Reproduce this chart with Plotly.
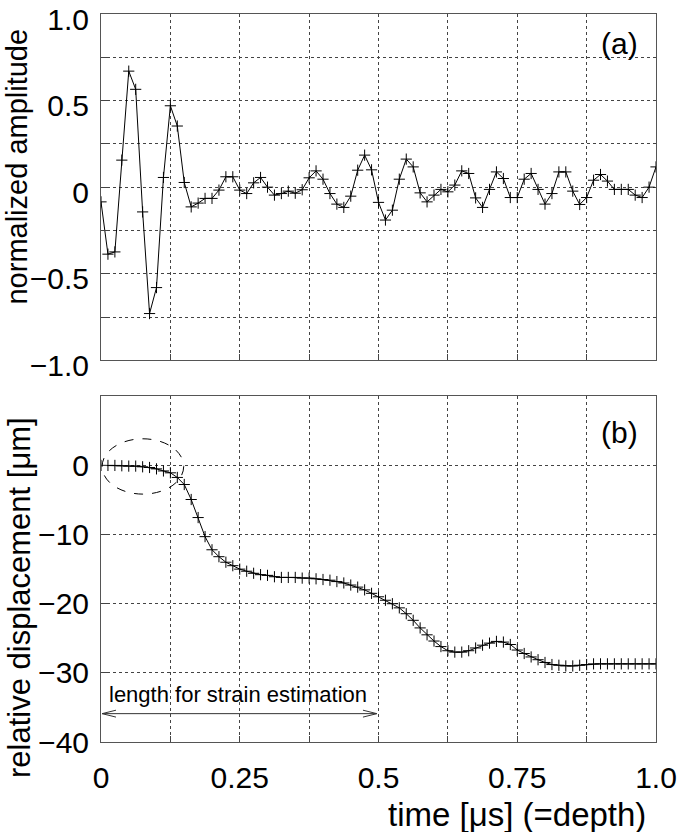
import plotly.graph_objects as go

# ---------------- data ----------------
dt = 0.0125
time_us = [round(i * dt, 4) for i in range(81)]

amplitude = [
    -0.085, -0.387, -0.374, 0.156, 0.67, 0.565, -0.143, -0.73, -0.58, 0.056,
    0.47, 0.353, 0.027, -0.114, -0.092, -0.065, -0.065, -0.017, 0.06, 0.06,
    -0.017, -0.037, 0.025, 0.056, 0.0, -0.046, -0.037, -0.023, -0.035, -0.015,
    0.054, 0.094, 0.046, -0.037, -0.098, -0.117, -0.052, 0.098, 0.185, 0.1,
    -0.088, -0.19, -0.133, 0.046, 0.162, 0.117, -0.033, -0.085, -0.046, -0.013,
    -0.027, 0.012, 0.094, 0.079, -0.062, -0.117, -0.013, 0.088, 0.05, -0.06,
    -0.06, 0.046, 0.079, -0.013, -0.098, -0.037, 0.088, 0.088, -0.023, -0.1,
    -0.06, 0.04, 0.073, 0.035, -0.013, -0.013, -0.013, -0.046, -0.06, 0.0,
    0.117,
]

displacement = [
    0.0, 0.0, 0.0, -0.05, -0.1, -0.1, -0.2, -0.3, -0.5, -0.8,
    -1.07, -1.74, -2.76, -4.93, -7.54, -10.3, -12.2, -13.2, -14.0, -14.5,
    -15.0, -15.3, -15.6, -15.8, -15.9, -16.1, -16.2, -16.2, -16.2, -16.3,
    -16.3, -16.4, -16.5, -16.6, -16.8, -17.0, -17.3, -17.6, -18.0, -18.5,
    -19.0, -19.5, -20.0, -20.6, -21.45, -22.4, -23.5, -24.5, -25.4, -26.2,
    -26.8, -27.0, -27.0, -26.8, -26.4, -26.0, -25.7, -25.45, -25.55, -25.9,
    -26.7, -27.2, -27.7, -28.1, -28.5, -28.8, -28.9, -29.0, -29.0, -28.9,
    -28.8, -28.7, -28.7, -28.7, -28.7, -28.7, -28.7, -28.7, -28.7, -28.7,
    -28.7,
]

x_tickvals = [0, 0.125, 0.25, 0.375, 0.5, 0.625, 0.75, 0.875, 1.0]
x_ticktext = ["0", "", "0.25", "", "0.5", "", "0.75", "", "1.0"]
amp_tickvals = [-1.0, -0.75, -0.5, -0.25, 0, 0.25, 0.5, 0.75, 1.0]
amp_ticktext = ["\u22121.0", "", "\u22120.5", "", "0", "", "0.5", "", "1.0"]
disp_tickvals = [-40, -30, -20, -10, 0, 10]
disp_ticktext = ["\u221240", "\u221230", "\u221220", "\u221210", "0", ""]

FONT = "Liberation Sans, Arial, sans-serif"

fig = go.Figure()

line_style = dict(color="black", width=1)
marker_style = dict(symbol="cross-thin", size=8, line=dict(color="black", width=1), color="black")

fig.add_trace(go.Scatter(x=time_us, y=amplitude, mode="lines+markers",
                         line=line_style, marker=marker_style,
                         xaxis="x", yaxis="y", showlegend=False))
fig.add_trace(go.Scatter(x=time_us, y=displacement, mode="lines+markers",
                         line=line_style, marker=marker_style,
                         xaxis="x2", yaxis="y2", showlegend=False))

axis_common = dict(
    showgrid=True, gridcolor="#444", griddash="dot", gridwidth=1,
    showline=True, mirror=True, linecolor="#555", linewidth=1,
    ticks="inside", ticklen=6, tickcolor="#444",
    zeroline=False, ticklabeloverflow="allow", automargin=False,
    tickfont=dict(family=FONT, size=30, color="black"),
)

fig.update_layout(
    width=683, height=832,
    margin=dict(l=101, r=27, t=14, b=90, autoexpand=False),
    paper_bgcolor="white", plot_bgcolor="white",
    xaxis=dict(domain=[0, 1], range=[0, 1], tickvals=x_tickvals, ticktext=x_ticktext,
               anchor="y", showticklabels=False, **axis_common),
    yaxis=dict(domain=[0.5243, 1], range=[-1, 1], tickvals=amp_tickvals,
               ticktext=amp_ticktext, anchor="x", ticklabelstandoff=5,
               ticklabelshift=5, **axis_common),
    xaxis2=dict(domain=[0, 1], range=[0, 1], tickvals=x_tickvals, ticktext=x_ticktext,
                anchor="y2", ticklabelstandoff=9, **axis_common),
    yaxis2=dict(domain=[0, 0.4749], range=[-40, 10], tickvals=disp_tickvals,
                ticktext=disp_ticktext, anchor="x2", ticklabelstandoff=5, **axis_common),
)

# axis titles as annotations
fig.add_annotation(text="normalized amplitude", xref="paper", yref="paper",
                   x=-0.152, y=0.79, textangle=-90, showarrow=False,
                   xanchor="center", yanchor="middle",
                   font=dict(family=FONT, size=29, color="black"))
fig.add_annotation(text="relative displacement [\u03bcm]", xref="paper", yref="paper",
                   x=-0.148, y=0.199, textangle=-90, showarrow=False,
                   xanchor="center", yanchor="middle",
                   font=dict(family=FONT, size=31, color="black"))
fig.add_annotation(text="time [\u03bcs] (=depth)", xref="paper", yref="paper",
                   x=0.75, y=-0.1, showarrow=False,
                   xanchor="center", yanchor="middle",
                   font=dict(family=FONT, size=33, color="black"))

# panel labels
fig.add_annotation(text="(a)", xref="x", yref="y", x=0.935, y=0.83, showarrow=False,
                   font=dict(family=FONT, size=30, color="black"))
fig.add_annotation(text="(b)", xref="x2", yref="y2", x=0.935, y=4.8, showarrow=False,
                   font=dict(family=FONT, size=30, color="black"))

# dashed ellipse
fig.add_shape(type="circle", xref="x2", yref="y2", x0=0.002, x1=0.149, y0=-4.15, y1=3.85,
              line=dict(color="black", width=1, dash="dash"))

# double-headed arrow and label
arrow_y = -35.9
arrow_x0, arrow_x1 = 0.002, 0.497
head_dx, head_dy = 0.025, 0.5
fig.add_shape(type="line", xref="x2", yref="y2", x0=arrow_x0, x1=arrow_x1, y0=arrow_y, y1=arrow_y,
              line=dict(color="#333", width=1))
fig.add_shape(type="path", xref="x2", yref="y2",
              path=f"M {arrow_x0 + head_dx},{arrow_y + head_dy} L {arrow_x0},{arrow_y} L {arrow_x0 + head_dx},{arrow_y - head_dy}",
              line=dict(color="#333", width=1))
fig.add_shape(type="path", xref="x2", yref="y2",
              path=f"M {arrow_x1 - head_dx},{arrow_y + head_dy} L {arrow_x1},{arrow_y} L {arrow_x1 - head_dx},{arrow_y - head_dy}",
              line=dict(color="#333", width=1))
fig.add_annotation(text="length for strain estimation", xref="x2", yref="y2",
                   x=0.01, y=-33.2, xanchor="left", yanchor="middle", showarrow=False,
                   font=dict(family=FONT, size=22, color="black"))

fig.write_html("out.html")
